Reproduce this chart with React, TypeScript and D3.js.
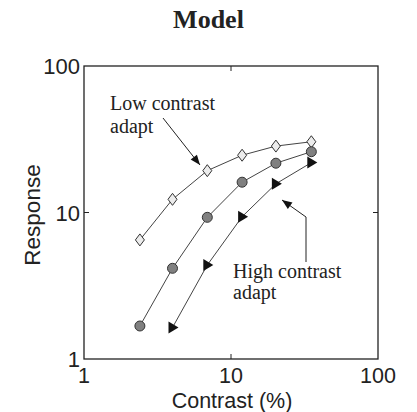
import React from "react";
import * as d3 from "d3";

const contrast = [2.4, 4.0, 6.9, 11.9, 20.2, 35.2];
const lowAdapt = [6.5, 12.3, 19.3, 24.6, 28.4, 30.4];
const highCircle = [1.68, 4.16, 9.27, 16.1, 21.7, 26.0];
const triContrast = [4.0, 6.9, 11.9, 20.2, 35.2];
const highTri = [1.64, 4.38, 9.36, 15.7, 21.9];
const tickVals = [1, 10, 100];
const tickLabels = ["1", "10", "100"];

export default function App() {
  const W = 417, H = 412;
  const x = d3.scaleLog().domain([1, 100]).range([84, 378]);
  const y = d3.scaleLog().domain([1, 100]).range([359, 66]);
  const line = d3.line<[number, number]>().x(d => x(d[0])).y(d => y(d[1]));
  const lowPts = contrast.map((c, i) => [c, lowAdapt[i]] as [number, number]);
  const circPts = contrast.map((c, i) => [c, highCircle[i]] as [number, number]);
  const triPts = triContrast.map((c, i) => [c, highTri[i]] as [number, number]);
  const serif = "'Liberation Serif', 'Times New Roman', serif";
  const sans = "'Liberation Sans', Arial, sans-serif";
  return (
    <svg width={W} height={H} style={{ position: "absolute", left: 0, top: 0, background: "#fff" }}>
      <defs>
        <marker id="ah" viewBox="0 0 10 10" refX="10" refY="5" markerWidth="13" markerHeight="10" markerUnits="userSpaceOnUse" orient="auto">
          <path d="M0,1 L10,5 L0,9 Z" fill="#111" />
        </marker>
      </defs>
      <text x={208.5} y={28} textAnchor="middle" fontFamily={serif} fontWeight="bold" fontSize={26} fill="#222">Model</text>
      <rect x={84} y={66} width={294} height={293} fill="none" stroke="#222" strokeWidth={1.3} />
      <line x1={x(10)} x2={x(10)} y1={359} y2={354} stroke="#222" />
      <line x1={x(10)} x2={x(10)} y1={66} y2={71} stroke="#222" />
      <line x1={84} x2={89} y1={y(10)} y2={y(10)} stroke="#222" />
      <line x1={378} x2={373} y1={y(10)} y2={y(10)} stroke="#222" />
      {tickVals.map((v, i) => (
        <text key={"y" + i} x={80} y={y(v) + 8} textAnchor="end" fontFamily={sans} fontSize={22} fill="#222">{tickLabels[i]}</text>
      ))}
      {tickVals.map((v, i) => (
        <text key={"x" + i} x={x(v)} y={383} textAnchor="middle" fontFamily={sans} fontSize={21.5} fill="#222">{tickLabels[i]}</text>
      ))}
      <text x={232} y={408} textAnchor="middle" fontFamily={sans} fontSize={21.5} fill="#222">Contrast (%)</text>
      <text transform="translate(40,215) rotate(-90)" textAnchor="middle" fontFamily={sans} fontSize={22.5} fill="#222">Response</text>

      <path d={line(lowPts) || ""} fill="none" stroke="#444" strokeWidth={1} />
      <path d={line(circPts) || ""} fill="none" stroke="#444" strokeWidth={1} />
      <path d={line(triPts) || ""} fill="none" stroke="#444" strokeWidth={1} />

      {lowPts.map((p, i) => {
        const cx = x(p[0]), cy = y(p[1]);
        return <path key={"d" + i} d={`M${cx},${cy - 6} L${cx + 4.5},${cy} L${cx},${cy + 6} L${cx - 4.5},${cy} Z`} fill="#ececec" stroke="#333" strokeWidth={1} />;
      })}
      {circPts.map((p, i) => (
        <circle key={"c" + i} cx={x(p[0])} cy={y(p[1])} r={5} fill="#808080" stroke="#333" strokeWidth={1} />
      ))}
      {triPts.map((p, i) => {
        const cx = x(p[0]), cy = y(p[1]);
        return <path key={"t" + i} d={`M${cx - 4},${cy - 6} L${cx + 6},${cy} L${cx - 4},${cy + 6} Z`} fill="#111" />;
      })}

      <text x={110} y={110} fontFamily={serif} fontSize={20} fill="#222">Low contrast</text>
      <text x={110} y={133} fontFamily={serif} fontSize={20} fill="#222">adapt</text>
      <line x1={163} y1={118} x2={200} y2={165} stroke="#222" strokeWidth={1} markerEnd="url(#ah)" />

      <path d="M306,262 L306,217 L282,200" fill="none" stroke="#222" strokeWidth={1} markerEnd="url(#ah)" />
      <text x={233} y={278} fontFamily={serif} fontSize={20} fill="#222">High contrast</text>
      <text x={233} y={299} fontFamily={serif} fontSize={20} fill="#222">adapt</text>
    </svg>
  );
}
